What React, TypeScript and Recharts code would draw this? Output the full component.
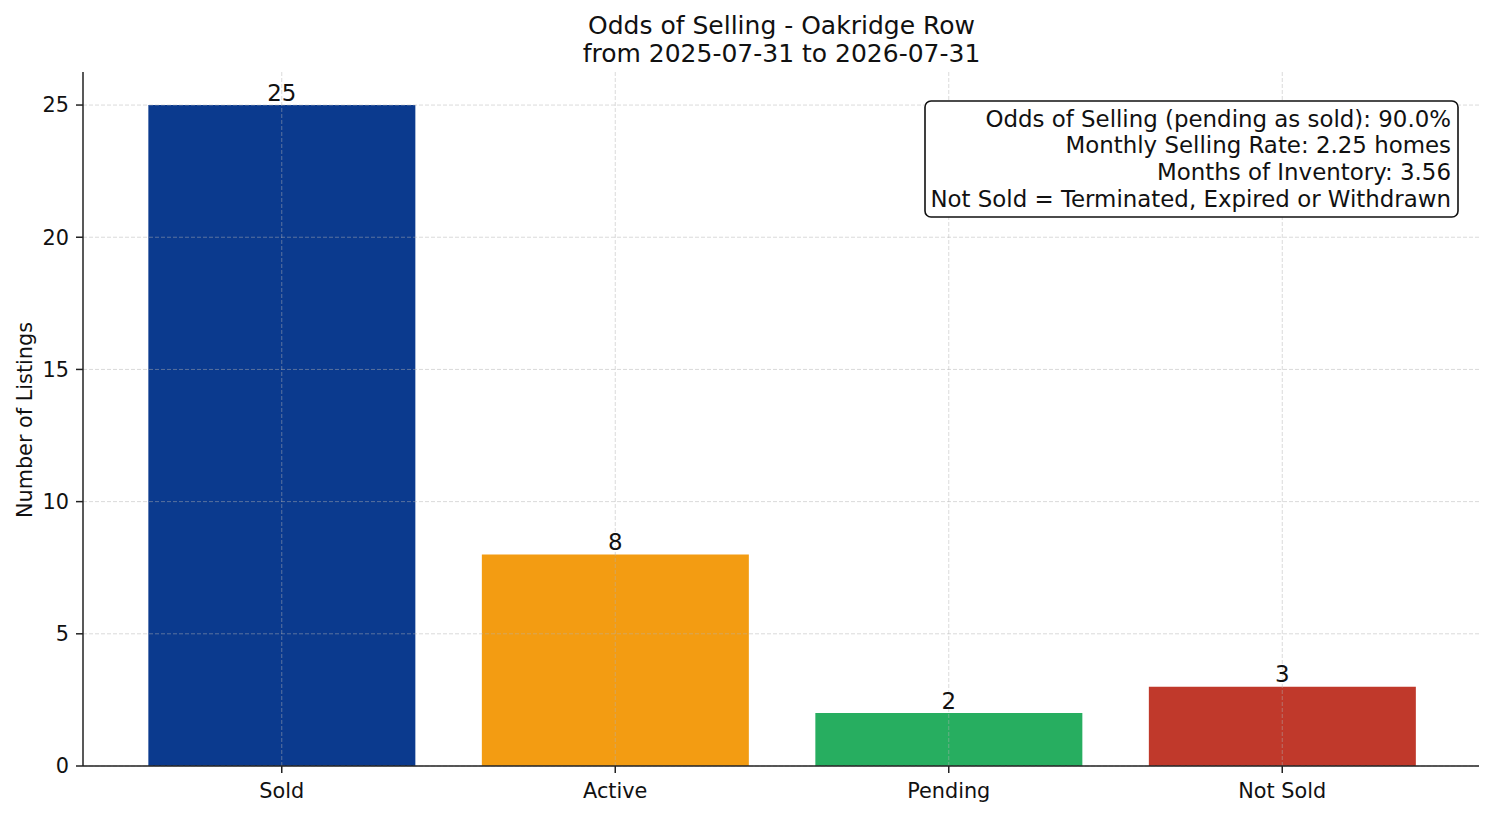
import React from "react";
import { BarChart, Bar, XAxis, YAxis, Cell, LabelList, ReferenceLine } from "recharts";

const categories = ["Sold", "Active", "Pending", "Not Sold"];
const counts = [25, 8, 2, 3];
const barColors = ["#0B3A8E", "#F39C12", "#27AE60", "#C0392B"];
const yTicks = [0, 5, 10, 15, 20, 25];
const yMax = 26.25;
const titleLines = ["Odds of Selling - Oakridge Row", "from 2025-07-31 to 2026-07-31"];
const infoLines = [
  "Odds of Selling (pending as sold): 90.0%",
  "Monthly Selling Rate: 2.25 homes",
  "Months of Inventory: 3.56",
  "Not Sold = Terminated, Expired or Withdrawn",
];

const data = categories.map((name, i) => ({ name, count: counts[i] }));

const FONT = "'DejaVu Sans', sans-serif";
const W = 1494;
const H = 816;

export default function App() {
  return (
    <div style={{ position: "absolute", left: 0, top: 0, width: W, height: H, background: "#fff", fontFamily: FONT }}>
      <BarChart
        width={W}
        height={H}
        data={data}
        margin={{ top: 72, right: 15, bottom: 0, left: 0 }}
        barCategoryGap="10%"
      >
        <XAxis
          dataKey="name"
          height={50}
          padding={{ left: 32, right: 30 }}
          axisLine={{ stroke: "#222", strokeWidth: 1.5 }}
          tickLine={{ stroke: "#222", strokeWidth: 1.5 }}
          tickSize={7}
          tickMargin={10}
          tick={{ fill: "#111", fontSize: 20.8, fontFamily: FONT }}
          interval={0}
        />
        <YAxis
          width={83}
          domain={[0, yMax]}
          ticks={yTicks}
          allowDataOverflow
          axisLine={{ stroke: "#222", strokeWidth: 1.5 }}
          tickLine={{ stroke: "#222", strokeWidth: 1.5 }}
          tickSize={7}
          tickMargin={7}
          tick={{ fill: "#111", fontSize: 20.8, fontFamily: FONT }}
        />
        <Bar dataKey="count" isAnimationActive={false}>
          {data.map((d, i) => (
            <Cell key={d.name} fill={barColors[i]} />
          ))}
          <LabelList dataKey="count" position="top" offset={4.5} fill="#111" fontSize={22.9} fontFamily={FONT} />
        </Bar>
        {yTicks.map((t) => (
          <ReferenceLine key={"y" + t} y={t} stroke="#b0b0b0" strokeOpacity={0.6} strokeWidth={0.8} strokeDasharray="4 2" />
        ))}
        {categories.map((c) => (
          <ReferenceLine key={"x" + c} x={c} stroke="#b0b0b0" strokeOpacity={0.6} strokeWidth={0.8} strokeDasharray="4 2" />
        ))}
      </BarChart>
      <svg
        width={W}
        height={H}
        style={{ position: "absolute", left: 0, top: 0, pointerEvents: "none" }}
        fontFamily={FONT}
      >
        {titleLines.map((t, i) => (
          <text key={t} x={781.5} y={34 + i * 28} textAnchor="middle" fontSize={25} fill="#111">
            {t}
          </text>
        ))}
        <text x={0} y={0} transform="translate(32 420) rotate(-90)" textAnchor="middle" fontSize={20.8} fill="#111">
          Number of Listings
        </text>
        <rect x={925} y={101} width={533} height={116} rx={6} ry={6} fill="#fff" stroke="#111" strokeWidth={1.6} />
        {infoLines.map((t, i) => (
          <text key={t} x={1451} y={126.5 + i * 26.7} textAnchor="end" fontSize={22.9} fill="#111">
            {t}
          </text>
        ))}
      </svg>
    </div>
  );
}
